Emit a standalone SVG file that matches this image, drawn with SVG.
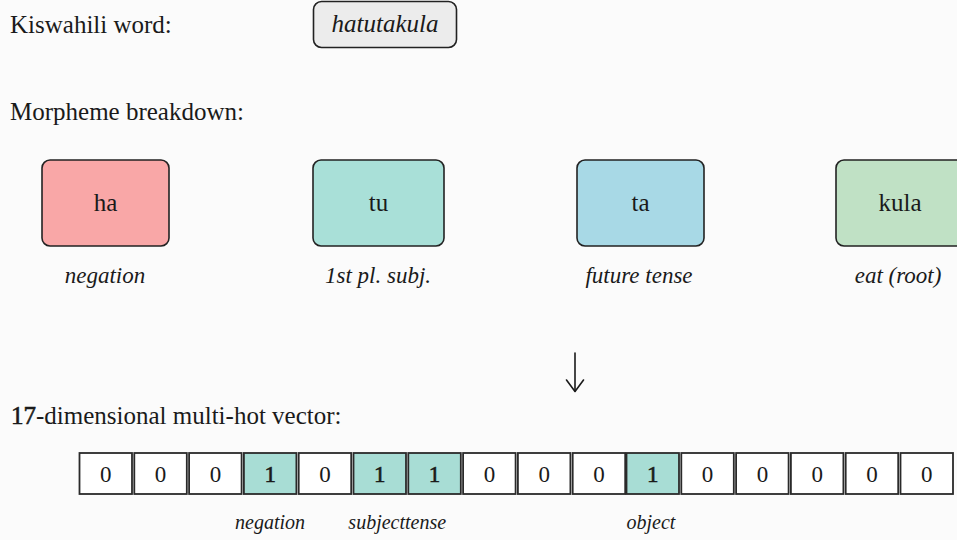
<svg xmlns="http://www.w3.org/2000/svg" width="957" height="540" viewBox="0 0 957 540">
  <style>
    text { font-family: 'Liberation Serif', 'DejaVu Serif', 'Times New Roman', serif; fill: #1a1a1a; }
    .head { font-size: 25px; }
    .word { font-size: 25px; font-style: italic; }
    .morph { font-size: 25px; text-anchor: middle; }
    .gloss { font-size: 23px; font-style: italic; text-anchor: middle; }
    .box { stroke: #222; stroke-width: 1.6; }
    .cell { fill: #ffffff; stroke: #2a2a2a; stroke-width: 1.8; }
    .cell.on { fill: #a8ddd5; }
    .digit { font-size: 23px; text-anchor: middle; }
    .heavy { stroke: #1a1a1a; stroke-width: 0.6; }
    .slot { font-size: 20px; font-style: italic; }
    .conn { fill: none; stroke: #1a1a1a; stroke-width: 1.6; stroke-linecap: round; stroke-linejoin: round; }
  </style>
  <rect x="0" y="0" width="957" height="540" fill="#fbfbfb"/>

  <!-- input word -->
  <g id="word-label"><text class="head" x="10" y="33">Kiswahili word:</text></g>
  <g id="word">
    <rect class="box" x="313.5" y="1.5" width="143" height="46" rx="8" fill="#ececec"/>
    <text class="word" x="385" y="32" text-anchor="middle">hatutakula</text>
  </g>

  <!-- morphemes -->
  <g id="breakdown-label"><text class="head" x="10" y="120">Morpheme breakdown:</text></g>
  <g id="m-ha">
    <rect class="box" x="42" y="160" width="127" height="86" rx="8" fill="#f9a7a7"/>
    <text class="morph" x="105.5" y="211">ha</text>
    <text class="gloss" x="105" y="283">negation</text>
  </g>
  <g id="m-tu">
    <rect class="box" x="313" y="160" width="131" height="86" rx="8" fill="#a9e0d8"/>
    <text class="morph" x="378.5" y="211">tu</text>
    <text class="gloss" x="378" y="283">1st pl. subj.</text>
  </g>
  <g id="m-ta">
    <rect class="box" x="577" y="160" width="127" height="86" rx="8" fill="#a8d9e6"/>
    <text class="morph" x="640.5" y="211">ta</text>
    <text class="gloss" x="639" y="283">future tense</text>
  </g>
  <g id="m-kula">
    <rect class="box" x="836" y="160" width="129" height="86" rx="8" fill="#c0e1c5"/>
    <text class="morph" x="900" y="211">kula</text>
    <text class="gloss" x="898" y="283">eat (root)</text>
  </g>

  <!-- connectors -->
  <g id="connectors">
    <path class="conn" d="M575 353 V391"/>
    <path class="conn" d="M566.5 380 L575 391.5 L583.5 380"/>
  </g>

  <!-- vector -->
  <g id="vector-label"><text class="head" x="11" y="424"><tspan class="heavy">17</tspan>-dimensional multi-hot vector:</text></g>
  <g id="vector">
    <rect class="cell" x="79.5" y="453" width="52.5" height="41"/>
    <rect class="cell" x="134.3" y="453" width="52.5" height="41"/>
    <rect class="cell" x="189.1" y="453" width="52.5" height="41"/>
    <rect class="cell on" x="243.9" y="453" width="52.5" height="41"/>
    <rect class="cell" x="298.7" y="453" width="52.5" height="41"/>
    <rect class="cell on" x="353.5" y="453" width="52.5" height="41"/>
    <rect class="cell on" x="408.3" y="453" width="52.5" height="41"/>
    <rect class="cell" x="463.1" y="453" width="52.5" height="41"/>
    <rect class="cell" x="517.9" y="453" width="52.5" height="41"/>
    <rect class="cell" x="572.7" y="453" width="52.5" height="41"/>
    <rect class="cell on" x="626.5" y="453" width="52.5" height="41"/>
    <rect class="cell" x="681.3" y="453" width="52.5" height="41"/>
    <rect class="cell" x="736.1" y="453" width="52.5" height="41"/>
    <rect class="cell" x="790.9" y="453" width="52.5" height="41"/>
    <rect class="cell" x="845.7" y="453" width="52.5" height="41"/>
    <rect class="cell" x="900.5" y="453" width="52.5" height="41"/>
    <text class="digit" x="105.8" y="482">0</text>
    <text class="digit" x="160.6" y="482">0</text>
    <text class="digit" x="215.4" y="482">0</text>
    <text class="digit heavy" x="270.2" y="482">1</text>
    <text class="digit" x="325" y="482">0</text>
    <text class="digit heavy" x="379.8" y="482">1</text>
    <text class="digit heavy" x="434.6" y="482">1</text>
    <text class="digit" x="489.4" y="482">0</text>
    <text class="digit" x="544.2" y="482">0</text>
    <text class="digit" x="599" y="482">0</text>
    <text class="digit heavy" x="652.8" y="482">1</text>
    <text class="digit" x="707.6" y="482">0</text>
    <text class="digit" x="762.4" y="482">0</text>
    <text class="digit" x="817.2" y="482">0</text>
    <text class="digit" x="872" y="482">0</text>
    <text class="digit" x="926.8" y="482">0</text>
  </g>
  <g id="slot-labels">
    <text class="slot" x="270" y="529" text-anchor="middle">negation</text>
    <text class="slot" x="405" y="529" text-anchor="end">subject</text>
    <text class="slot" x="405" y="529">tense</text>
    <text class="slot" x="651" y="529" text-anchor="middle">object</text>
  </g>
</svg>
